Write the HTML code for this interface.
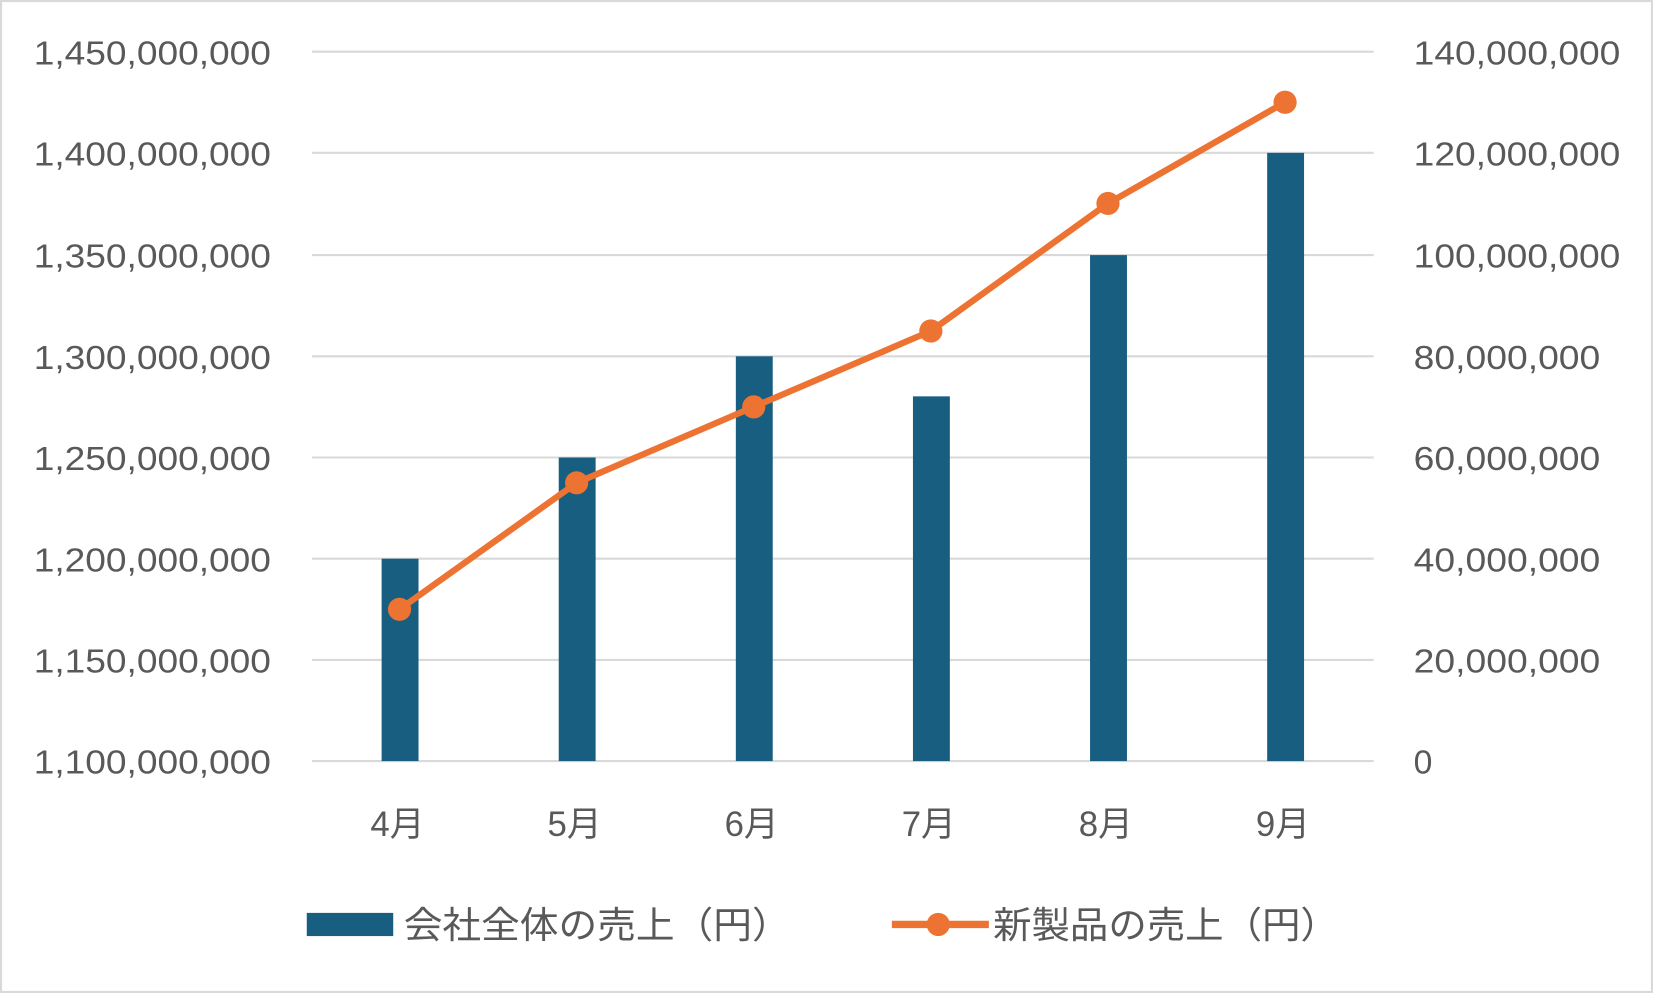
<!DOCTYPE html>
<html><head><meta charset="utf-8"><style>
html,body{margin:0;padding:0;background:#fff;}
svg{display:block;}
text{font-family:"Liberation Sans","Noto Sans CJK JP",sans-serif;fill:#595959;}
</style></head><body>
<svg width="1653" height="993" viewBox="0 0 1568 942" preserveAspectRatio="none">
<rect x="1" y="1" width="1566" height="940" fill="#fff" stroke="#d9d9d9" stroke-width="2"/>
<g stroke="#d9d9d9" stroke-width="2">
<line x1="296" x2="1303" y1="49" y2="49"/><line x1="296" x2="1303" y1="145" y2="145"/>
<line x1="296" x2="1303" y1="242" y2="242"/><line x1="296" x2="1303" y1="338" y2="338"/>
<line x1="296" x2="1303" y1="434" y2="434"/><line x1="296" x2="1303" y1="530" y2="530"/>
<line x1="296" x2="1303" y1="626" y2="626"/><line x1="296" x2="1303" y1="722" y2="722"/>
</g>
<g font-size="32" lengthAdjust="spacingAndGlyphs">
<text x="32" y="61" textLength="225" lengthAdjust="spacingAndGlyphs">1,450,000,000</text>
<text x="32" y="157" textLength="225" lengthAdjust="spacingAndGlyphs">1,400,000,000</text>
<text x="32" y="254" textLength="225" lengthAdjust="spacingAndGlyphs">1,350,000,000</text>
<text x="32" y="350" textLength="225" lengthAdjust="spacingAndGlyphs">1,300,000,000</text>
<text x="32" y="446" textLength="225" lengthAdjust="spacingAndGlyphs">1,250,000,000</text>
<text x="32" y="542" textLength="225" lengthAdjust="spacingAndGlyphs">1,200,000,000</text>
<text x="32" y="638" textLength="225" lengthAdjust="spacingAndGlyphs">1,150,000,000</text>
<text x="32" y="734" textLength="225" lengthAdjust="spacingAndGlyphs">1,100,000,000</text>
</g>
<g font-size="32">
<text x="1341" y="61" textLength="196" lengthAdjust="spacingAndGlyphs">140,000,000</text>
<text x="1341" y="157" textLength="196" lengthAdjust="spacingAndGlyphs">120,000,000</text>
<text x="1341" y="254" textLength="196" lengthAdjust="spacingAndGlyphs">100,000,000</text>
<text x="1341" y="350" textLength="177" lengthAdjust="spacingAndGlyphs">80,000,000</text>
<text x="1341" y="446" textLength="177" lengthAdjust="spacingAndGlyphs">60,000,000</text>
<text x="1341" y="542" textLength="177" lengthAdjust="spacingAndGlyphs">40,000,000</text>
<text x="1341" y="638" textLength="177" lengthAdjust="spacingAndGlyphs">20,000,000</text>
<text x="1341" y="734">0</text>
</g>
<g fill="#175e81">
<rect x="362" y="530" width="35" height="192"/><rect x="530" y="434" width="35" height="288"/>
<rect x="698" y="338" width="35" height="384"/><rect x="866" y="376" width="35" height="346"/>
<rect x="1034" y="242" width="35" height="480"/><rect x="1202" y="145" width="35" height="577"/>
</g>
<polyline points="379,578 547,458 715,386 883,314 1051,193 1219,97" fill="none" stroke="#ed7332" stroke-width="6" stroke-linejoin="round"/>
<g fill="#ed7332">
<circle cx="379" cy="578" r="11"/><circle cx="547" cy="458" r="11"/><circle cx="715" cy="386" r="11"/>
<circle cx="883" cy="314" r="11"/><circle cx="1051" cy="193" r="11"/><circle cx="1219" cy="97" r="11"/>
</g>
<g font-size="33" text-anchor="middle">
<text x="377" y="793">4月</text><text x="545" y="793">5月</text><text x="713" y="793">6月</text>
<text x="881" y="793">7月</text><text x="1049" y="793">8月</text><text x="1217" y="793">9月</text>
</g>
<rect x="291" y="866" width="82" height="22" fill="#175e81"/>
<text x="383" y="890" font-size="35" textLength="367" lengthAdjust="spacingAndGlyphs">会社全体の売上（円）</text>
<line x1="846" x2="938" y1="877" y2="877" stroke="#ed7332" stroke-width="7"/>
<circle cx="890" cy="877" r="11" fill="#ed7332"/>
<text x="942" y="890" font-size="35" textLength="328" lengthAdjust="spacingAndGlyphs">新製品の売上（円）</text>
</svg>
</body></html>
